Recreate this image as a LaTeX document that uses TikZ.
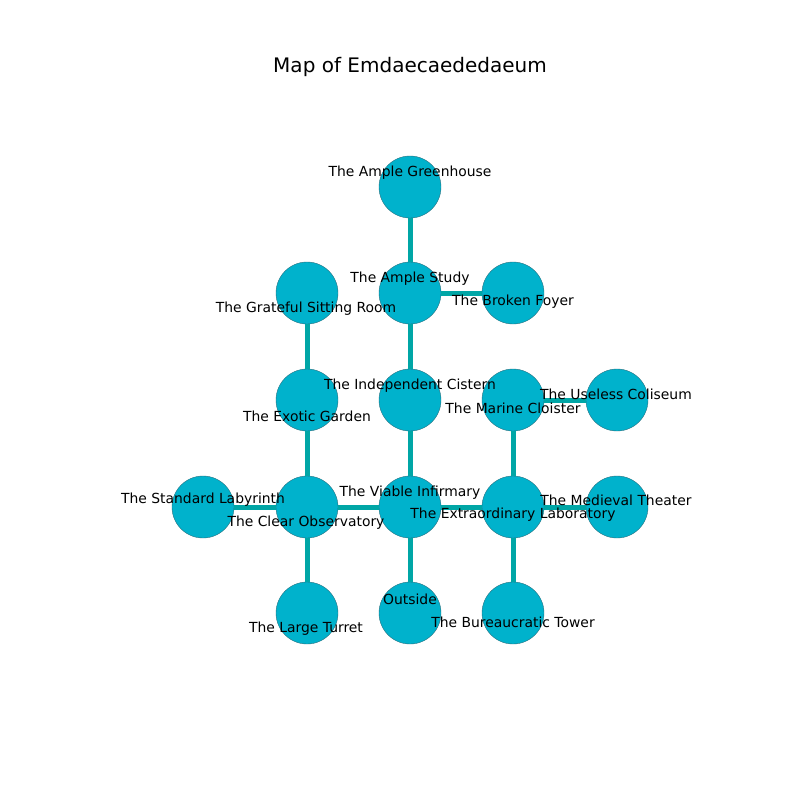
\documentclass[tikz,border=0pt]{standalone}
\usepackage{fontspec}
\setmainfont{DejaVu Sans}
\tikzset{every picture/.style={line width=0.75pt}}
\tikzset{room/.style={circle,minimum size=62pt,inner sep=0pt,fill={rgb,255:red,0;green,178;blue,204},draw={rgb,255:red,40;green,110;blue,125},line width=0.4pt},
  passage/.style={draw={rgb,255:red,0;green,166;blue,166},line width=5pt},
  roomlabel/.style={inner sep=0pt,yshift=-2pt,font=\fontsize{13.9}{16}\selectfont}}

\begin{document}
\begin{tikzpicture}[x=1pt,y=1pt,yscale=-1,xscale=1]
\useasboundingbox (0,0) rectangle (800,800);

% Rooms
\node [room] (greenhouse) at (410,187) {};
\node [room] (study) at (410,293) {};
\node [room] (foyer) at (513,293) {};
\node [room] (sitting) at (307,293) {};
\node [room] (cistern) at (410,400) {};
\node [room] (garden) at (307,400) {};
\node [room] (cloister) at (513,400) {};
\node [room] (coliseum) at (617,400) {};
\node [room] (labyrinth) at (203,507) {};
\node [room] (observatory) at (307,507) {};
\node [room] (infirmary) at (410,507) {};
\node [room] (laboratory) at (513,507) {};
\node [room] (theater) at (617,507) {};
\node [room] (turret) at (307,613) {};
\node [room] (outside) at (410,613) {};
\node [room] (tower) at (513,613) {};

% Passages
\draw [passage] (greenhouse) -- (study);
\draw [passage] (study) -- (foyer);
\draw [passage] (study) -- (cistern);
\draw [passage] (sitting) -- (garden);
\draw [passage] (garden) -- (observatory);
\draw [passage] (cistern) -- (infirmary);
\draw [passage] (cloister) -- (coliseum);
\draw [passage] (cloister) -- (laboratory);
\draw [passage] (labyrinth) -- (observatory);
\draw [passage] (observatory) -- (infirmary);
\draw [passage] (infirmary) -- (laboratory);
\draw [passage] (laboratory) -- (theater);
\draw [passage] (observatory) -- (turret);
\draw [passage] (infirmary) -- (outside);
\draw [passage] (laboratory) -- (tower);

% Text Node
\node [font=\fontsize{20}{24}\selectfont] (title) at (410,67) {Map of Emdaecaededaeum};
\node [roomlabel] (lgreenhouse) at (410,171) {The Ample Greenhouse};
\node [roomlabel] (lstudy) at (410,277) {The Ample Study};
\node [roomlabel] (lfoyer) at (513,300) {The Broken Foyer};
\node [roomlabel] (lsitting) at (306,307) {The Grateful Sitting Room};
\node [roomlabel] (lcistern) at (410,384) {The Independent Cistern};
\node [roomlabel] (lgarden) at (307,414) {The Exotic Garden};
\node [roomlabel] (lcloister) at (513,406) {The Marine Cloister};
\node [roomlabel] (lcoliseum) at (616,392) {The Useless Coliseum};
\node [roomlabel] (llabyrinth) at (203,498) {The Standard Labyrinth};
\node [roomlabel] (linfirmary) at (410,491) {The Viable Infirmary};
\node [roomlabel] (lobservatory) at (306,521) {The Clear Observatory};
\node [roomlabel] (llaboratory) at (513,513) {The Extraordinary Laboratory};
\node [roomlabel] (ltheater) at (616,498) {The Medieval Theater};
\node [roomlabel] (loutside) at (410,597) {Outside};
\node [roomlabel] (lturret) at (306,627) {The Large Turret};
\node [roomlabel] (ltower) at (513,620) {The Bureaucratic Tower};

\end{tikzpicture}
\end{document}
